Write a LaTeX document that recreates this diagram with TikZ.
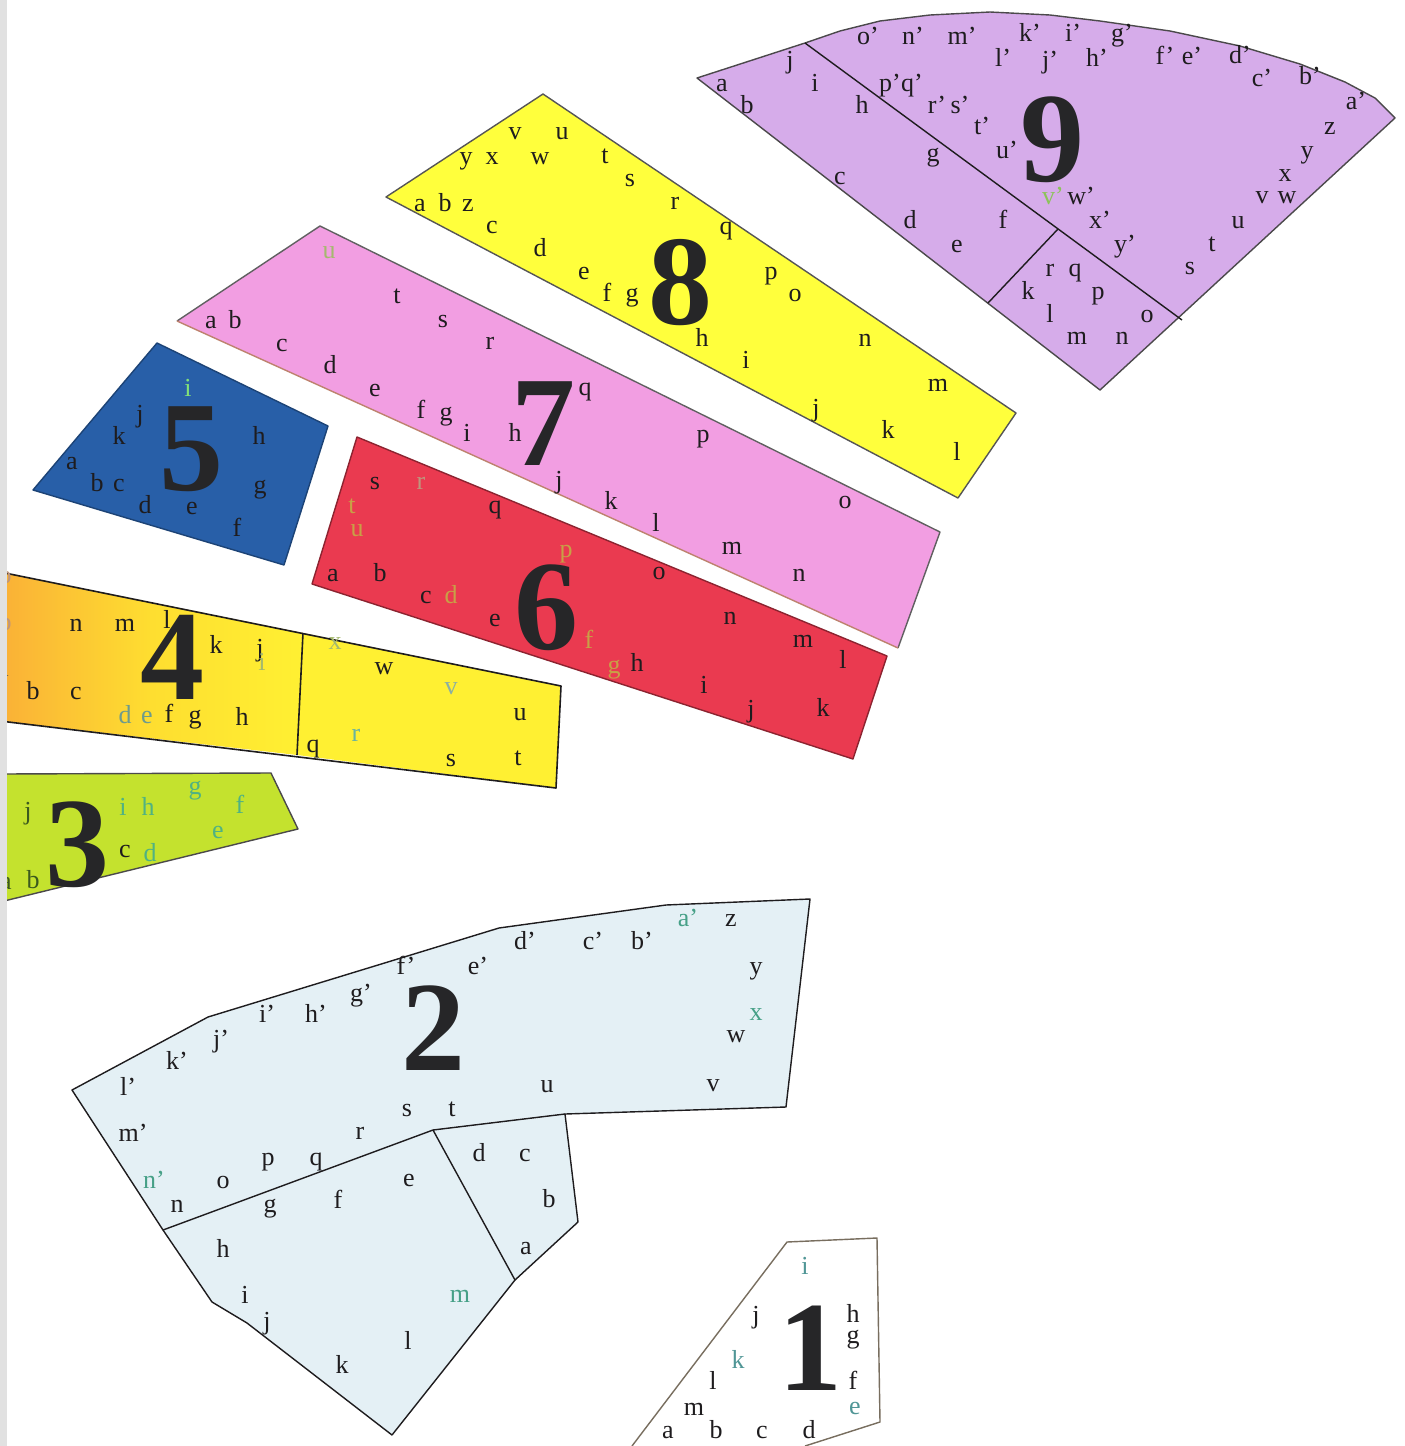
\documentclass[tikz,border=0pt]{standalone}
\usepackage{fontspec}
\setmainfont{Liberation Serif}
\definecolor{lilac}{RGB}{214,172,234}
\definecolor{ylw8}{RGB}{255,255,60}
\definecolor{pinkc}{RGB}{242,158,226}
\definecolor{bluec}{RGB}{40,95,168}
\definecolor{redc}{RGB}{234,58,80}
\definecolor{ylw4}{RGB}{255,240,50}
\definecolor{org4}{RGB}{250,176,55}
\definecolor{mid4}{RGB}{254,222,48}
\definecolor{grn3}{RGB}{196,226,46}
\definecolor{lblue}{RGB}{228,240,245}
\definecolor{ink}{RGB}{30,28,30}
\definecolor{numink}{RGB}{38,38,40}
\definecolor{tealc}{RGB}{70,160,135}
\definecolor{teal3}{RGB}{80,178,130}
\definecolor{olive3}{RGB}{60,90,30}
\definecolor{tan6}{RGB}{200,160,70}
\definecolor{tanr}{RGB}{190,150,125}
\definecolor{greenv}{RGB}{140,195,90}
\definecolor{green5}{RGB}{130,225,120}
\definecolor{olive4}{RGB}{165,185,110}
\definecolor{teal4}{RGB}{110,155,140}
\definecolor{tealb}{RGB}{80,150,150}
\definecolor{pinkedge}{RGB}{190,130,110}
\definecolor{stripc}{RGB}{225,225,225}
\definecolor{edge1}{RGB}{120,110,95}
\tikzset{
  lbl/.style={font=\fontsize{13}{13}\selectfont, text=ink, inner sep=0pt, anchor=base},
  bignum/.style={font=\fontsize{64}{64}\selectfont\bfseries, text=numink, inner sep=0pt, anchor=center},
  outl/.style={line width=0.7pt, line join=round},
}
\begin{document}
\begin{tikzpicture}[x=0.5pt,y=-0.5pt]
\useasboundingbox (0,0) rectangle (1404,1446);
\fill[white] (0,0) rectangle (1404,1446);

% ---------- shape 9 ----------
\filldraw[outl, fill=lilac, draw=ink!80] (697,78) -- (805,43) -- (840,31) -- (880,21) -- (930,15) -- (990,12) -- (1050,15) -- (1100,21) -- (1170,31) -- (1240,46) -- (1300,64) -- (1345,82) -- (1375,98) -- (1395,118) -- (1100,390) -- cycle;
\draw[outl, draw=ink] (805,43) -- (1182,320);
\draw[outl, draw=ink] (1058,229) -- (988,303);
\node[bignum] (n9) at (1052,140) {9};
\foreach \t/\x/\y [count=\i] in {a/722/85, b/747/107, j/790/62, i/815/85, h/862/107, g/933/155, c/840/178, d/910/222, e/957/246, f/1003/222,
  o’/868/38, n’/913/38, m’/962/38, k’/1030/35, i’/1073/35, g’/1122/35, l’/1003/60, j’/1050/62, h’/1097/60, f’/1165/58, e’/1192/58,
  d’/1240/57, c’/1262/80, b’/1310/78, a’/1356/103, z/1330/128, y/1307/152, x/1285/175, v/1262/197, w/1287/197, u/1238/222, t/1212/245, s/1190/268,
  p’/890/85, q’/912/85, r’/937/107, s’/960/107, t’/982/128, u’/1007/152, w’/1081/198, x’/1100/222, y’/1125/246,
  k/1028/293, r/1050/270, q/1075/270, p/1098/293, l/1050/316, o/1147/316, m/1077/338, n/1122/338}
  \node[lbl] (s9a\i) at (\x,\y+6) {\t};
\node[lbl, text=greenv] (s9g1) at (1053,204) {v’};

% ---------- shape 8 ----------
\filldraw[outl, fill=ylw8, draw=ink!75] (386,197) -- (543,94) -- (1016,413) -- (958,498) -- cycle;
\node[bignum] (n8) at (680,283) {8};
\foreach \t/\x/\y [count=\i] in {a/420/205, b/445/205, z/468/205, y/466/158, x/492/158, v/515/133, u/562/133, w/540/158, t/605/157, s/630/180, r/675/203, q/726/228,
  c/492/227, d/540/250, e/584/273, f/607/295, g/632/295, p/771/273, o/795/295, h/702/340, i/746/362, n/865/340, m/938/385, j/816/410, k/888/432, l/957/454}
  \node[lbl] (s8a\i) at (\x,\y+6) {\t};

% ---------- shape 7 ----------
\fill[pinkc] (177,321) -- (320,226) -- (940,532) -- (898,648) -- cycle;
\draw[outl, draw=ink!70] (177,321) -- (320,226) -- (940,532) -- (898,648);
\draw[outl, draw=pinkedge] (898,648) -- (177,321);
\node[bignum] (n7) at (543,424) {7};
\foreach \t/\x/\y [count=\i] in {a/211/322, b/235/322, t/397/297, s/443/321, r/490/343, c/282/345, d/330/367, e/375/390, f/421/412, g/446/414, i/467/435, h/515/435,
  q/585/389, p/703/436, j/559/482, k/611/503, l/656/525, m/732/548, o/845/502, n/799/575}
  \node[lbl] (s7a\i) at (\x,\y+6) {\t};
\node[lbl, text=olive4] (s7g1) at (329,258) {u};

% ---------- shape 5 ----------
\filldraw[outl, fill=bluec, draw=bluec!70!black] (33,490) -- (157,343) -- (328,426) -- (284,565) -- cycle;
\node[bignum] (n5) at (191,449) {5};
\foreach \t/\x/\y [count=\i] in {j/140/416, k/119/438, a/72/463, b/97/485, c/119/485, d/145/507, e/192/508, f/237/530, g/260/487, h/259/438}
  \node[lbl] (s5a\i) at (\x,\y+6) {\t};
\node[lbl, text=green5] (s5g1) at (188,396) {i};

% ---------- shape 6 ----------
\filldraw[outl, fill=redc, draw=redc!60!black] (357,437) -- (887,656) -- (853,759) -- (312,584) -- cycle;
\node[bignum] (n6) at (546,608) {6};
\foreach \t/\x/\y [count=\i] in {s/375/483, q/495/507, a/333/575, b/380/575, c/426/597, e/495/620, h/637/665, o/659/573, n/730/618, m/803/641, l/843/662, i/704/687, j/751/711, k/823/710}
  \node[lbl] (s6a\i) at (\x,\y+6) {\t};
\foreach \t/\x/\y [count=\i] in {t/352/507, u/357/530, d/451/597, p/566/551, f/589/642, g/614/667}
  \node[lbl, text=tan6] (s6t\i) at (\x,\y+6) {\t};
\node[lbl, text=tanr] (s6r1) at (421,489) {r};

% ---------- shape 4 ----------
\shade[left color=org4, right color=ylw4, middle color=mid4] (0,572) -- (303,633) -- (297,755) -- (0,721) -- cycle;
\fill[ylw4] (303,633) -- (561,686) -- (556,788) -- (297,755) -- cycle;
\draw[outl, line width=0.8pt, draw=ink] (0,572) -- (561,686) -- (556,788) -- (0,721);
\draw[outl, line width=0.8pt, draw=ink] (303,633) -- (297,755);
\node[bignum] (n4) at (172,657) {4};
\foreach \t/\x/\y [count=\i] in {n/76/625, m/125/625, l/167/622, k/216/647, j/260/650, b/33/693, c/76/693, f/169/716, g/195/717, h/242/719,
  w/384/668, u/520/714, q/313/746, s/451/760, t/518/759}
  \node[lbl] (s4a\i) at (\x,\y+6) {\t};
\foreach \t/\x/\y [count=\i] in {d/125/717, e/147/717}
  \node[lbl, text=teal4] (s4t\i) at (\x,\y+6) {\t};
\node[lbl, text=olive4] (s4o1) at (262,670) {i};
\node[lbl, text=olive4] (s4o2) at (335,649) {x};
\node[lbl, text=teal4!80] (s4o3) at (451,694) {v};
\node[lbl, text=tealc!80] (s4o4) at (356,741) {r};
\node[lbl, text=tanr] (s4p1) at (5,583) {o};
\node[lbl, text=tanr] (s4p2) at (5,630) {p};
\node[lbl, text=ink!80] (s4p3) at (3,676) {a};

% ---------- shape 3 ----------
\fill[grn3] (0,774) -- (271,773) -- (298,829) -- (0,902) -- cycle;
\draw[outl, draw=ink!80] (0,774) -- (271,773) -- (298,829) -- (0,902);
\node[bignum] (n3) at (78,845) {3};
\foreach \t/\x/\y [count=\i] in {j/28/813, a/6/883, b/33/882}
  \node[lbl, text=olive3] (s3o\i) at (\x,\y+6) {\t};
\node[lbl] (s3a1) at (125,857) {c};
\foreach \t/\x/\y [count=\i] in {i/123/809, h/148/809, g/195/788, f/240/807, e/218/832, d/150/855}
  \node[lbl, text=teal3] (s3t\i) at (\x,\y+6) {\t};

% ---------- shape 2 ----------
\filldraw[outl, fill=lblue, draw=ink] (72,1090) -- (208,1017) -- (499,928) -- (666,905) -- (810,899) -- (786,1107) -- (565,1114) -- (578,1222) -- (515,1280) -- (392,1435) -- (247,1323) -- (212,1302) -- (163,1230) -- cycle;
\draw[outl, draw=ink] (565,1114) -- (433,1130) -- (163,1230);
\draw[outl, draw=ink] (433,1130) -- (515,1280);
\node[bignum] (n2) at (433,1028) {2};
\foreach \t/\x/\y [count=\i] in {z/731/920, d’/525/943, c’/593/943, b’/642/943, f’/406/968, e’/478/968, y/756/968, g’/361/995, i’/267/1016, h’/316/1016,
  j’/221/1041, w/736/1036, k’/177/1063, l’/128/1089, u/547/1086, v/713/1085, s/407/1110, t/452/1110, m’/133/1135, r/360/1133, p/268/1159, q/316/1159,
  o/223/1182, n/177/1206, g/270/1206, f/338/1202, e/409/1180, d/479/1155, c/525/1155, b/549/1201, a/526/1248, h/223/1251, i/245/1297, j/267/1323, l/408/1343, k/342/1367}
  \node[lbl] (s2a\i) at (\x,\y+6) {\t};
\foreach \t/\x/\y [count=\i] in {a’/688/920, x/756/1014, n’/154/1182, m/460/1296}
  \node[lbl, text=tealc] (s2t\i) at (\x,\y+6) {\t};

% ---------- shape 1 ----------
\fill[white] (787,1242) -- (877,1238) -- (880,1422) -- (805,1446) -- (632,1446) -- cycle;
\draw[outl, draw=edge1] (632,1446) -- (787,1242) -- (877,1238) -- (880,1422) -- (805,1446);
\node[bignum] (n1) at (810,1348) {1};
\foreach \t/\x/\y [count=\i] in {h/853/1316, g/853/1337, j/756/1317, f/853/1383, l/713/1383, m/694/1409, a/668/1432, b/716/1432, c/762/1432, d/809/1432}
  \node[lbl] (s1a\i) at (\x,\y+6) {\t};
\foreach \t/\x/\y [count=\i] in {i/805/1268, k/738/1362, e/855/1408}
  \node[lbl, text=tealb] (s1t\i) at (\x,\y+6) {\t};

% left scan strip
\fill[stripc] (0,0) rectangle (7,1446);
\end{tikzpicture}
\end{document}
